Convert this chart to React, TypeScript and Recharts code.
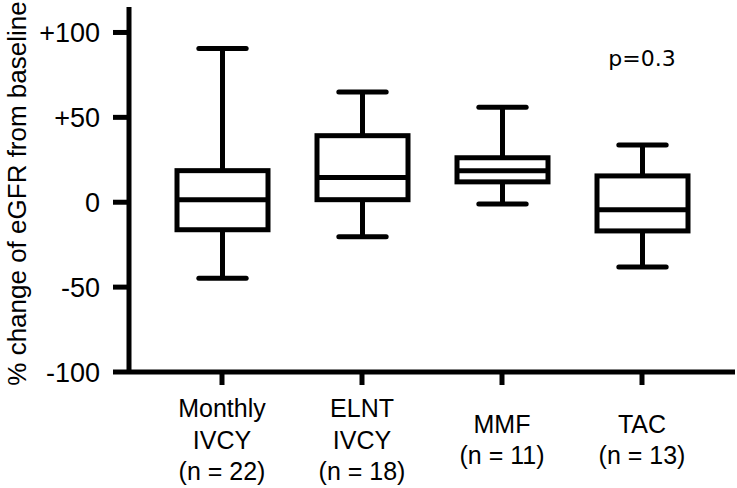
import React from 'react';
import { ComposedChart, Bar, XAxis, YAxis, ReferenceDot } from 'recharts';

const categories = ['Monthly\nIVCY\n(n = 22)', 'ELNT\nIVCY\n(n = 18)', 'MMF\n(n = 11)', 'TAC\n(n = 13)'];
const minValues = [-44.8, -20.4, -1, -38.2];
const q1Values = [-16.2, 1.5, 12.0, -16.9];
const medianValues = [1.5, 14.5, 18.6, -4.4];
const q3Values = [18.6, 39.2, 26.2, 15.5];
const maxValues = [90.6, 65, 55.9, 33.7];
const yTicks = [-100, -50, 0, 50, 100];
const yTickLabels = ['-100', '-50', '0', '+50', '+100'];
const pValueText = 'p=0.3';
const pValueY = 85;
const axisLabel = '% change of eGFR from baseline';

const data = categories.map((name, i) => ({
  name,
  range: [minValues[i], maxValues[i]],
  min: minValues[i],
  q1: q1Values[i],
  median: medianValues[i],
  q3: q3Values[i],
  max: maxValues[i],
}));

const FONT = '"Liberation Sans", Arial, Helvetica, sans-serif';

const BoxShape = (props: any) => {
  const { x, y, width, height, payload } = props;
  if (!payload) return null;
  const top = Math.min(y, y + height);
  const bottom = Math.max(y, y + height);
  const span = payload.max - payload.min;
  const py = (v: number) => top + ((payload.max - v) / span) * (bottom - top);
  const cx = x + width / 2;
  const capHalf = width * 0.26;
  return (
    <g stroke="#000" strokeWidth={5} fill="none">
      <line x1={cx} x2={cx} y1={py(payload.max)} y2={py(payload.q3)} />
      <line x1={cx} x2={cx} y1={py(payload.q1)} y2={py(payload.min)} />
      <line x1={cx - capHalf} x2={cx + capHalf} y1={py(payload.max)} y2={py(payload.max)} strokeLinecap="round" />
      <line x1={cx - capHalf} x2={cx + capHalf} y1={py(payload.min)} y2={py(payload.min)} strokeLinecap="round" />
      <rect x={x} y={py(payload.q3)} width={width} height={py(payload.q1) - py(payload.q3)} fill="#fff" />
      <line x1={x} x2={x + width} y1={py(payload.median)} y2={py(payload.median)} />
    </g>
  );
};

const XTick = (props: any) => {
  const { x, y, payload } = props;
  const lines = String(payload.value).split('\n');
  const lh = 31.5;
  const center = y + 63.5;
  return (
    <g>
      {lines.map((l, i) => (
        <text
          key={i}
          x={x}
          y={center + (i - (lines.length - 1) / 2) * lh}
          textAnchor="middle"
          fontFamily={FONT}
          fontSize={25}
          fill="#000"
        >
          {l}
        </text>
      ))}
    </g>
  );
};

const YLabel = (props: any) => {
  const vb = props.viewBox || { x: 0, y: 7, width: 129, height: 365 };
  const cy = vb.y + vb.height / 2 + 4;
  return (
    <text
      transform={`translate(26, ${cy}) rotate(-90)`}
      textAnchor="middle"
      fontFamily={FONT}
      fontSize={26}
      fill="#000"
    >
      {axisLabel}
    </text>
  );
};

export default function App() {
  return (
    <div style={{ position: 'absolute', left: 0, top: 0, background: '#fff' }}>
      <ComposedChart width={737} height={488} data={data} margin={{ top: 7, right: 2, bottom: 0, left: 0 }}>
        <XAxis
          dataKey="name"
          height={116}
          padding={{ left: 23, right: 23 }}
          interval={0}
          tickSize={13}
          tickMargin={0}
          axisLine={{ stroke: '#000', strokeWidth: 5 }}
          tickLine={{ stroke: '#000', strokeWidth: 5 }}
          tick={<XTick />}
        />
        <YAxis
          type="number"
          domain={[-100, 115]}
          ticks={yTicks}
          allowDataOverflow
          width={129}
          tickSize={16}
          tickMargin={13}
          tickFormatter={(v: number) => yTickLabels[yTicks.indexOf(v)]}
          axisLine={{ stroke: '#000', strokeWidth: 5 }}
          tickLine={{ stroke: '#000', strokeWidth: 5 }}
          tick={{ fill: '#000', fontSize: 27, fontFamily: FONT }}
          label={{ content: <YLabel /> }}
        />
        <Bar dataKey="range" barSize={91} shape={<BoxShape />} isAnimationActive={false} />
        <ReferenceDot
          x={categories[3]}
          y={pValueY}
          r={0}
          fill="none"
          stroke="none"
          ifOverflow="visible"
          label={{ value: pValueText, position: 'center', fontSize: 22, fontFamily: '"DejaVu Sans", Verdana, sans-serif', fill: '#000' }}
        />
      </ComposedChart>
    </div>
  );
}
